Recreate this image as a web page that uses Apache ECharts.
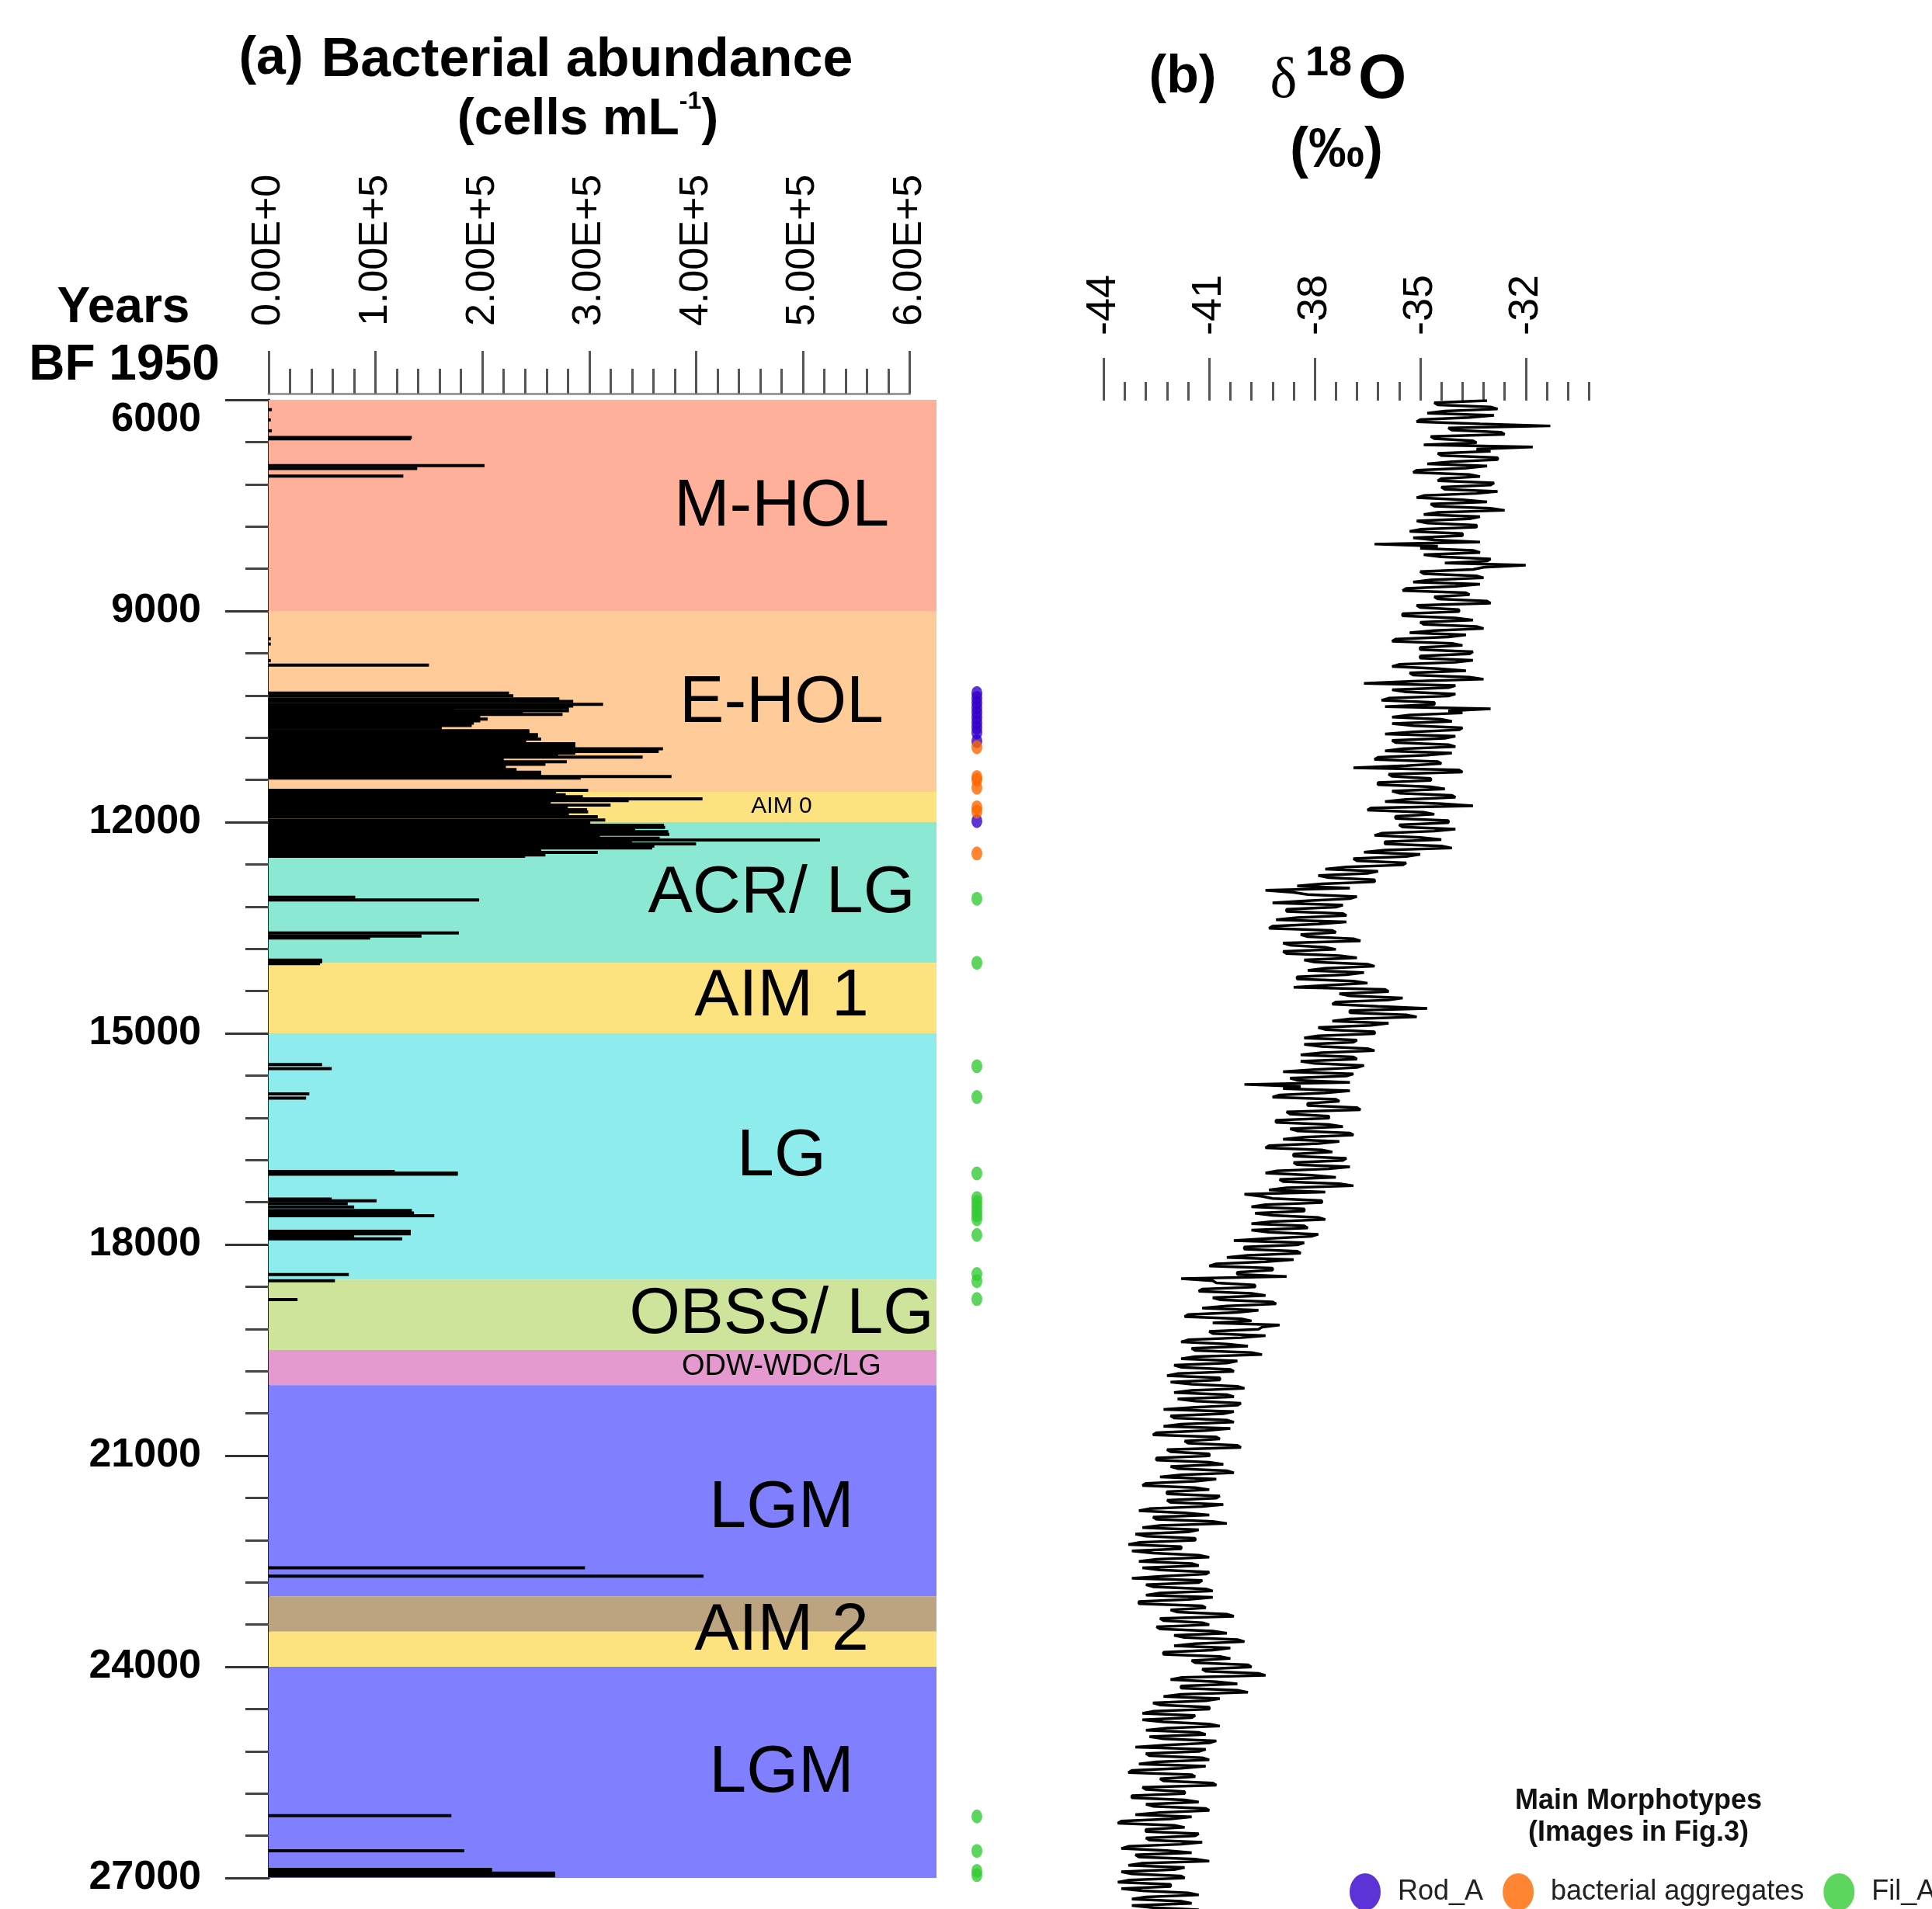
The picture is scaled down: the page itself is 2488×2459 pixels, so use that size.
<!DOCTYPE html>
<html>
<head>
<meta charset="utf-8">
<title>Bacterial abundance and d18O</title>
<script src="https://cdn.jsdelivr.net/npm/echarts@6/dist/echarts.min.js"></script>
<style>
  html, body { margin: 0; padding: 0; background: #fff; }
  #chart { width: 2488px; height: 2459px; }
</style>
</head>
<body>
<div id="chart"></div>
<script>
// climate periods, years BF 1950
const zoneStart = [6000, 9000, 11570, 12000, 14000, 15000, 18500, 19500, 20000, 23000, 23500, 24000]
const zoneEnd = [9000, 11570, 12000, 14000, 15000, 18500, 19500, 20000, 23000, 23500, 24000, 27000]
const zoneLabel = ['M-HOL', 'E-HOL', 'AIM 0', 'ACR/ LG', 'AIM 1', 'LG', 'OBSS/ LG', 'ODW-WDC/LG', 'LGM', 'AIM 2', 'LGM']
const zoneLabelAge = [7520, 10320, 11775, 13020, 14490, 16760, 19000, 19740, 21750, 23500, 25510]

// bacterial abundance (cells mL-1) by age
const barAge = [
  6140, 6285, 6440, 6535, 6555, 6935, 6975, 7085,
  9395, 9470, 9705, 9770,
  10167, 10204, 10248, 10285, 10326, 10351, 10377, 10407, 10418, 10443,
  10469, 10499, 10535, 10561, 10594, 10627, 10664, 10701, 10730, 10756,
  10782, 10819, 10848, 10885, 10922, 10959, 10995, 11021, 11043, 11076,
  11106, 11143, 11179, 11216, 11253, 11290, 11327, 11352, 11374,
  11547, 11573, 11610, 11639, 11669, 11695, 11731, 11757, 11794, 11823,
  11853, 11890, 11923, 11971, 12007, 12044, 12074, 12110, 12136, 12173,
  12202, 12228, 12254, 12283, 12309, 12339, 12368, 12394, 12431, 12467, 12486,
  13067, 13107, 13574, 13618, 13647, 13960, 13985, 14010,
  15443, 15502, 15861, 15920,
  16962, 16985, 17002, 17356, 17380, 17420, 17469, 17518, 17553, 17592,
  17813, 17848, 17887, 17921, 18428, 18516, 18782,
  22594, 22712,
  26116, 26613, 26880, 26900, 26930, 26950, 26970
]
const barCells = [
  3000, 2000, 3000, 134000, 133000, 202000, 139000, 126000,
  2000, 2000, 2000, 150000,
  225000, 229000, 272000, 285000, 313000, 285000, 281000, 174000, 281000, 238000,
  275000, 198000, 205000, 198000, 192000, 190000, 162000, 244000, 244000, 252000,
  252000, 255000, 241000, 287000, 287000, 369000, 365000, 287000, 271000, 350000,
  220000, 279000, 259000, 222000, 232000, 255000, 255000, 377000, 292000,
  299000, 269000, 278000, 294000, 406000, 337000, 264000, 320000, 280000, 298000,
  299000, 281000, 308000, 315000, 301000, 370000, 371000, 343000, 374000, 375000,
  310000, 366000, 516000, 340000, 400000, 361000, 359000, 255000, 308000, 259000, 240000,
  81000, 197000, 178000, 143000, 95000, 50000, 50000, 48000,
  50000, 59000, 38000, 35000,
  118000, 177000, 177000, 59000, 101000, 74000, 80000, 134000, 136000, 155000,
  133000, 133000, 80000, 125000, 75000, 62000, 27000,
  296000, 407000,
  171000, 183000, 209000, 209000, 268000, 268000, 268000
]

// main morphotypes observed, by age
const rodAges = [10165, 10235, 10305, 10375, 10445, 10515, 10585, 10655, 10725, 10850, 11985]
const aggregateAges = [10935, 11360, 11400, 11510, 11790, 11850, 12445]
const filAges = [13088, 13998, 15468, 15905, 16990, 17340, 17400, 17463, 17525, 17585, 17641,
  17865, 18420, 18520, 18775, 26126, 26616, 26900, 26960]

// d18O record: values at 6000, 6060, 6120 ... and at 6030, 6090, 6150 ...
const d18oStartAge = 6000
const d18oStep = 60
const d18oEven = [
  -33.1, -34.5, -32.8, -34.8, -33.6, -35.1, -31.3, -34.1, -32.6, -34.6,
  -33.4, -31.8, -33.0, -34.4, -32.8, -34.8, -33.7, -35.2, -33.3, -34.5,
  -33.0, -34.3, -33.4, -35.1, -33.1, -34.6, -32.6, -34.9, -33.6, -34.8,
  -33.4, -35.3, -33.8, -34.6, -36.3, -35.0, -33.3, -34.4, -33.1, -32.0,
  -33.5, -34.9, -33.2, -35.2, -34.0, -35.5, -33.6, -34.5, -33.0, -35.0,
  -33.9, -35.5, -33.5, -34.9, -33.2, -35.3, -34.2, -35.8, -33.8, -35.0,
  -33.6, -35.0, -34.0, -35.8, -33.7, -35.2, -33.2, -36.6, -34.2, -35.4,
  -34.2, -36.1, -34.6, -33.0, -33.8, -35.8, -34.1, -35.2, -33.9, -36.0,
  -34.3, -35.7, -34.0, -36.0, -34.8, -36.3, -34.4, -36.9, -33.8, -35.8,
  -34.7, -36.2, -34.3, -35.6, -34.0, -36.0, -33.5, -36.5, -34.6, -35.7,
  -34.2, -35.5, -34.6, -36.3, -34.4, -36.0, -34.1, -36.6, -35.4, -36.8,
  -35.5, -37.7, -36.5, -37.6, -36.3, -38.5, -39.4, -38.2, -37.0, -39.2,
  -37.4, -38.8, -37.1, -39.1, -37.9, -39.3, -37.4, -38.2, -36.7, -38.7,
  -37.4, -38.8, -36.8, -38.0, -36.3, -38.2, -37.1, -38.5, -36.5, -38.6,
  -35.9, -37.0, -35.9, -37.5, -34.8, -37.0, -35.1, -37.5, -36.4, -37.7,
  -36.3, -38.3, -36.9, -37.8, -36.3, -38.4, -36.8, -38.0, -36.8, -38.9,
  -37.1, -38.5, -40.0, -38.9, -37.7, -39.2, -37.3, -38.2, -36.7, -38.7,
  -37.6, -39.1, -37.2, -38.5, -36.9, -38.9, -37.9, -39.4, -37.5, -38.6,
  -37.2, -38.5, -37.6, -39.4, -37.4, -38.9, -36.9, -39.3, -40.0, -39.2,
  -37.8, -39.8, -38.3, -39.2, -37.7, -39.8, -38.2, -39.3, -38.1, -40.3,
  -38.5, -40.0, -38.4, -40.5, -39.4, -41.0, -39.2, -40.2, -41.8, -40.8,
  -39.7, -41.3, -39.4, -40.7, -39.1, -41.2, -40.2, -41.7, -39.8, -39.0,
  -39.6, -40.9, -40.1, -41.8, -39.9, -41.4, -39.5, -41.8, -40.5, -41.8,
  -40.3, -42.2, -40.7, -41.5, -40.0, -42.0, -40.3, -41.4, -40.2, -42.3,
  -40.6, -42.0, -40.3, -42.3, -41.1, -42.6, -40.7, -41.6, -40.1, -42.1,
  -41.0, -42.5, -40.6, -41.9, -40.3, -42.4, -41.4, -42.9, -41.0, -42.2,
  -40.8, -42.1, -41.2, -43.0, -41.0, -42.5, -40.5, -42.9, -41.6, -42.8,
  -41.4, -43.3, -41.8, -42.6, -41.0, -43.0, -41.3, -42.4, -41.1, -43.2,
  -41.3, -42.6, -40.9, -42.8, -41.6, -43.0, -41.1, -41.9, -40.3, -42.3,
  -41.0, -42.4, -40.5, -41.7, -40.0, -42.0, -40.9, -42.3, -40.4, -41.4,
  -39.8, -41.1, -39.4, -42.1, -40.2, -41.8, -39.9, -42.3, -41.1, -42.4,
  -41.0, -42.9, -41.5, -42.3, -40.7, -42.8, -41.1, -42.3, -41.0, -43.1,
  -41.3, -42.7, -41.0, -43.0, -41.8, -43.3, -41.4, -42.3, -40.8, -42.8,
  -41.7, -43.2, -41.3, -42.6, -41.0, -43.1, -42.1, -43.6, -41.7, -42.8,
  -41.4, -42.7, -41.8, -43.5, -41.5, -43.0, -41.0, -43.3, -42.0, -43.2,
  -41.7, -43.6, -42.1, -42.9, -41.3, -43.2, -41.5, -42.6
]
const d18oOdd = [
  -34.6, -33.0, -34.3, -32.9, -35.0, -33.3, -34.2, -32.7, -34.7, -33.5,
  -34.9, -33.4, -34.5, -32.8, -34.1, -33.1, -35.1, -33.6, -34.4, -32.9,
  -34.4, -32.8, -34.9, -33.8, -34.7, -33.0, -34.5, -33.3, -35.1, -33.4,
  -35.0, -33.8, -35.2, -33.3, -34.5, -33.5, -34.9, -33.0, -34.3, -33.2,
  -35.0, -33.4, -34.7, -33.3, -35.4, -33.7, -34.6, -33.1, -35.1, -33.9,
  -35.5, -34.0, -35.0, -33.4, -34.6, -33.7, -35.7, -34.1, -35.0, -33.5,
  -35.0, -33.5, -35.6, -34.5, -35.3, -33.6, -35.2, -34.0, -35.8, -34.0,
  -35.9, -34.6, -36.0, -34.2, -35.3, -34.4, -35.8, -33.8, -35.2, -34.0,
  -35.8, -34.2, -35.5, -34.1, -36.2, -34.5, -35.4, -33.9, -35.9, -34.7,
  -36.2, -34.7, -35.8, -34.1, -35.4, -34.4, -36.4, -34.9, -35.7, -34.2,
  -35.6, -34.0, -36.1, -35.0, -36.0, -34.4, -36.0, -35.0, -36.9, -35.4,
  -37.1, -36.2, -37.9, -36.3, -37.8, -37.0, -38.6, -36.8, -38.2, -37.2,
  -38.8, -37.2, -38.5, -37.1, -39.2, -37.5, -38.4, -36.9, -38.9, -37.7,
  -38.9, -37.3, -38.3, -36.5, -37.7, -36.6, -38.5, -36.9, -37.6, -36.0,
  -37.3, -35.5, -37.4, -36.2, -37.0, -35.4, -37.0, -35.9, -37.9, -36.3,
  -37.9, -36.8, -38.3, -36.5, -37.8, -36.9, -38.4, -36.6, -38.0, -36.9,
  -38.7, -37.0, -38.4, -37.0, -39.0, -37.4, -38.2, -36.8, -38.8, -37.6,
  -39.1, -37.6, -38.7, -37.0, -38.3, -37.3, -39.3, -37.8, -38.6, -37.1,
  -38.6, -37.0, -39.1, -38.1, -39.0, -37.3, -38.8, -37.7, -39.5, -37.8,
  -39.4, -38.3, -39.7, -37.9, -39.2, -38.3, -39.8, -37.9, -39.3, -38.3,
  -40.0, -38.5, -39.9, -38.6, -40.8, -39.2, -40.2, -38.8, -40.9, -39.7,
  -41.2, -39.8, -40.9, -39.2, -40.5, -39.6, -41.6, -40.1, -40.9, -39.5,
  -41.0, -39.4, -41.6, -40.5, -41.5, -39.8, -41.4, -40.2, -42.0, -40.4,
  -41.9, -40.7, -42.1, -40.2, -41.5, -40.5, -41.9, -40.1, -41.4, -40.3,
  -42.1, -40.5, -41.8, -40.4, -42.5, -40.8, -41.7, -40.2, -42.2, -41.0,
  -42.5, -41.0, -42.1, -40.5, -41.8, -40.8, -42.8, -41.4, -42.2, -40.7,
  -42.2, -40.6, -42.7, -41.7, -42.6, -40.9, -42.4, -41.3, -43.1, -41.4,
  -43.0, -41.8, -43.2, -41.3, -42.5, -41.5, -42.9, -41.0, -42.3, -41.2,
  -42.8, -41.1, -42.4, -40.9, -43.0, -41.2, -42.1, -40.5, -42.4, -41.2,
  -42.5, -40.9, -42.0, -40.2, -41.4, -40.4, -42.3, -40.7, -41.5, -39.9,
  -41.2, -39.6, -41.8, -40.8, -41.8, -40.2, -41.8, -40.7, -42.6, -41.0,
  -42.6, -41.4, -42.9, -41.0, -42.2, -41.3, -42.7, -40.8, -42.2, -41.1,
  -42.8, -41.2, -42.5, -41.1, -43.2, -41.5, -42.4, -40.9, -42.9, -41.7,
  -43.2, -41.7, -42.8, -41.1, -42.4, -41.5, -43.5, -42.0, -42.8, -41.3,
  -42.8, -41.2, -43.3, -42.2, -43.1, -41.4, -42.9, -41.7, -43.5, -41.8,
  -43.3, -42.1, -43.5, -41.6, -42.8, -41.8, -43.2, -41.3
]

// styles
const FONT = "'Liberation Sans', Arial, sans-serif"
const zoneColors = ['#feb09b', '#fecb99', '#fde380', '#8ae8d3', '#fde380', '#8eecec',
  '#cde49a', '#e49ace', '#8080ff', '#bda480', '#fde380', '#8080ff']
const zoneLabelSize = [86, 86, 30, 86, 86, 86, 84, 38, 86, 86, 86]
const dotSymbol = 'path://M0 10A10 10 0 1 1 20 10A10 10 0 1 1 0 10Z'

const chart = echarts.init(document.getElementById('chart'))

const ageRange = { min: 6000, max: 27000 }
const hidden = { show: false }

// interleave the two d18O lists into one age-ordered trace
const d18oTrace = []
d18oEven.forEach((v, i) => {
  const age = d18oStartAge + i * d18oStep
  d18oTrace.push([v, age])
  d18oTrace.push([d18oOdd[i], age + d18oStep / 2])
})

function dots(name, ages, color) {
  return {
    name: name,
    type: 'scatter',
    xAxisIndex: 2,
    yAxisIndex: 2,
    symbol: dotSymbol,
    symbolSize: [14, 18],
    itemStyle: { color: color },
    data: ages.map(a => [0.5, a])
  }
}

chart.setOption({
  animation: false,
  backgroundColor: '#fff',
  grid: [
    { left: 346, top: 515, width: 860, height: 1904 },
    { left: 346, top: 515, width: 825.6, height: 1904 },
    { left: 1238, top: 515, width: 40, height: 1904 },
    { left: 1421.4, top: 516, width: 543.4, height: 1944 },
    { left: 1421.4, top: 516, width: 624.9, height: 1944 }
  ],
  xAxis: [
    { gridIndex: 0, type: 'value', min: 0, max: 625000, show: false },
    {
      gridIndex: 1, type: 'value', position: 'top', offset: 8,
      min: 0, max: 600000, interval: 100000,
      axisLine: { show: true, onZero: false, lineStyle: { color: '#9a9a9a', width: 3 } },
      axisTick: { show: true, length: 55, lineStyle: { color: '#555', width: 3 } },
      minorTick: { show: true, splitNumber: 5, length: 32, lineStyle: { color: '#555', width: 3 } },
      splitLine: hidden,
      axisLabel: {
        rotate: -90, margin: 87, fontSize: 52, color: '#000', fontFamily: FONT,
        formatter: v => (v / 1e5).toFixed(2) + 'E+' + (v === 0 ? 0 : 5)
      }
    },
    { gridIndex: 2, type: 'value', min: 0, max: 1, show: false },
    {
      gridIndex: 3, type: 'value', position: 'top',
      min: -44, max: -32, interval: 3,
      axisLine: { show: false, onZero: false },
      axisTick: { show: true, length: 55, lineStyle: { color: '#555', width: 3 } },
      splitLine: hidden,
      axisLabel: { rotate: -90, margin: 84, fontSize: 54, color: '#000', fontFamily: FONT }
    },
    {
      gridIndex: 4, type: 'value', position: 'top',
      min: -44, max: -30.2, interval: 0.6,
      axisLine: { show: false, onZero: false },
      axisTick: { show: true, length: 24, lineStyle: { color: '#555', width: 3 } },
      splitLine: hidden,
      axisLabel: hidden
    }
  ],
  yAxis: [
    { gridIndex: 0, type: 'value', inverse: true, ...ageRange, show: false },
    {
      gridIndex: 1, type: 'value', inverse: true, ...ageRange, interval: 3000,
      axisLine: { show: true, onZero: false, lineStyle: { color: '#222', width: 3 } },
      axisTick: { show: true, length: 56, lineStyle: { color: '#333', width: 3 } },
      minorTick: { show: true, splitNumber: 5, length: 30, lineStyle: { color: '#444', width: 3 } },
      splitLine: hidden,
      axisLabel: {
        fontSize: 52, fontWeight: 'bold', margin: 87, color: '#000', fontFamily: FONT,
        verticalAlignMinLabel: 'top',
        formatter: v => String(v)
      }
    },
    { gridIndex: 2, type: 'value', inverse: true, ...ageRange, show: false },
    { gridIndex: 3, type: 'value', inverse: true, min: 6000, max: 27440, show: false },
    { gridIndex: 4, type: 'value', inverse: true, min: 6000, max: 27440, show: false }
  ],
  legend: {
    left: 1733, top: 2408, width: 1200,
    itemWidth: 40, itemHeight: 48, itemGap: 25,
    symbolKeepAspect: false,
    selectedMode: false,
    textStyle: { fontSize: 36, color: '#222', fontFamily: FONT, padding: [0, 0, 0, 17] },
    data: ['Rod_A', 'bacterial aggregates', 'Fil_A']
  },
  graphic: [
    { type: 'text', x: 349, y: 76, style: { text: '(a)', fontSize: 68, fontWeight: 'bold', fontFamily: FONT, fill: '#000', align: 'center', verticalAlign: 'middle' } },
    { type: 'text', x: 756, y: 79, style: { text: 'Bacterial abundance', fontSize: 70, fontWeight: 'bold', fontFamily: FONT, fill: '#000', align: 'center', verticalAlign: 'middle' } },
    {
      type: 'text', x: 757, y: 155,
      style: {
        text: '{n|(cells mL}{s|-1}{n|)}', align: 'center', verticalAlign: 'middle',
        rich: {
          n: { fontSize: 66, fontWeight: 'bold', fontFamily: FONT, fill: '#000', lineHeight: 80 },
          s: { fontSize: 32, fontWeight: 'bold', fontFamily: FONT, fill: '#000', verticalAlign: 'top', lineHeight: 80 }
        }
      }
    },
    { type: 'text', x: 159, y: 397, style: { text: 'Years', fontSize: 64, fontWeight: 'bold', fontFamily: FONT, fill: '#000', align: 'center', verticalAlign: 'middle' } },
    { type: 'text', x: 160, y: 471, style: { text: 'BF 1950', fontSize: 64, fontWeight: 'bold', fontFamily: FONT, fill: '#000', align: 'center', verticalAlign: 'middle' } },
    { type: 'text', x: 1523, y: 100, style: { text: '(b)', fontSize: 68, fontWeight: 'bold', fontFamily: FONT, fill: '#000', align: 'center', verticalAlign: 'middle' } },
    { type: 'text', x: 1653, y: 106, style: { text: 'δ', fontSize: 74, fontFamily: "'Liberation Serif', serif", fill: '#000', align: 'center', verticalAlign: 'middle' } },
    { type: 'text', x: 1711, y: 82, style: { text: '18', fontSize: 54, fontWeight: 'bold', fontFamily: FONT, fill: '#000', align: 'center', verticalAlign: 'middle' } },
    { type: 'text', x: 1780, y: 104, style: { text: 'O', fontSize: 80, fontWeight: 'bold', fontFamily: FONT, fill: '#000', align: 'center', verticalAlign: 'middle' } },
    { type: 'text', x: 1721, y: 195, style: { text: '(‰)', fontSize: 72, fontWeight: 'bold', fontFamily: FONT, fill: '#000', align: 'center', verticalAlign: 'middle' } },
    { type: 'text', x: 2110, y: 2320, style: { text: 'Main Morphotypes', fontSize: 36, fontWeight: 'bold', fontFamily: FONT, fill: '#111', align: 'center', verticalAlign: 'middle' } },
    { type: 'text', x: 2110, y: 2361, style: { text: '(Images in Fig.3)', fontSize: 36, fontWeight: 'bold', fontFamily: FONT, fill: '#111', align: 'center', verticalAlign: 'middle' } }
  ],
  series: [
    {
      type: 'custom',
      xAxisIndex: 0,
      yAxisIndex: 0,
      silent: true,
      renderItem(params, api) {
        const a = api.coord([0, api.value(0)])
        const b = api.coord([625000, api.value(1)])
        return {
          type: 'rect',
          shape: { x: a[0], y: a[1], width: b[0] - a[0], height: b[1] - a[1] },
          style: { fill: zoneColors[params.dataIndex] }
        }
      },
      encode: { y: [0, 1] },
      data: zoneStart.map((s, i) => [s, zoneEnd[i]])
    },
    {
      type: 'custom',
      xAxisIndex: 0,
      yAxisIndex: 0,
      silent: true,
      renderItem(params, api) {
        const p = api.coord([480000, api.value(0)])
        return {
          type: 'text',
          x: p[0],
          y: p[1],
          style: {
            text: zoneLabel[params.dataIndex],
            fontSize: zoneLabelSize[params.dataIndex],
            fontFamily: FONT,
            fill: '#000',
            align: 'center',
            verticalAlign: 'middle'
          }
        }
      },
      encode: { y: 0 },
      data: zoneLabelAge.map(a => [a])
    },
    {
      type: 'custom',
      xAxisIndex: 1,
      yAxisIndex: 1,
      silent: true,
      renderItem(params, api) {
        const a = api.coord([0, api.value(1)])
        const b = api.coord([api.value(0), api.value(1)])
        return {
          type: 'rect',
          shape: { x: a[0], y: a[1] - 2, width: b[0] - a[0], height: 4 },
          style: { fill: '#000' }
        }
      },
      data: barAge.map((a, i) => [barCells[i], a])
    },
    dots('Rod_A', rodAges, '#3300cc'),
    dots('bacterial aggregates', aggregateAges, '#ff6600'),
    dots('Fil_A', filAges, '#33cc33'),
    {
      type: 'line',
      xAxisIndex: 4,
      yAxisIndex: 4,
      showSymbol: false,
      silent: true,
      lineStyle: { color: '#000', width: 3.5 },
      data: d18oTrace
    }
  ]
})
</script>
</body>
</html>
